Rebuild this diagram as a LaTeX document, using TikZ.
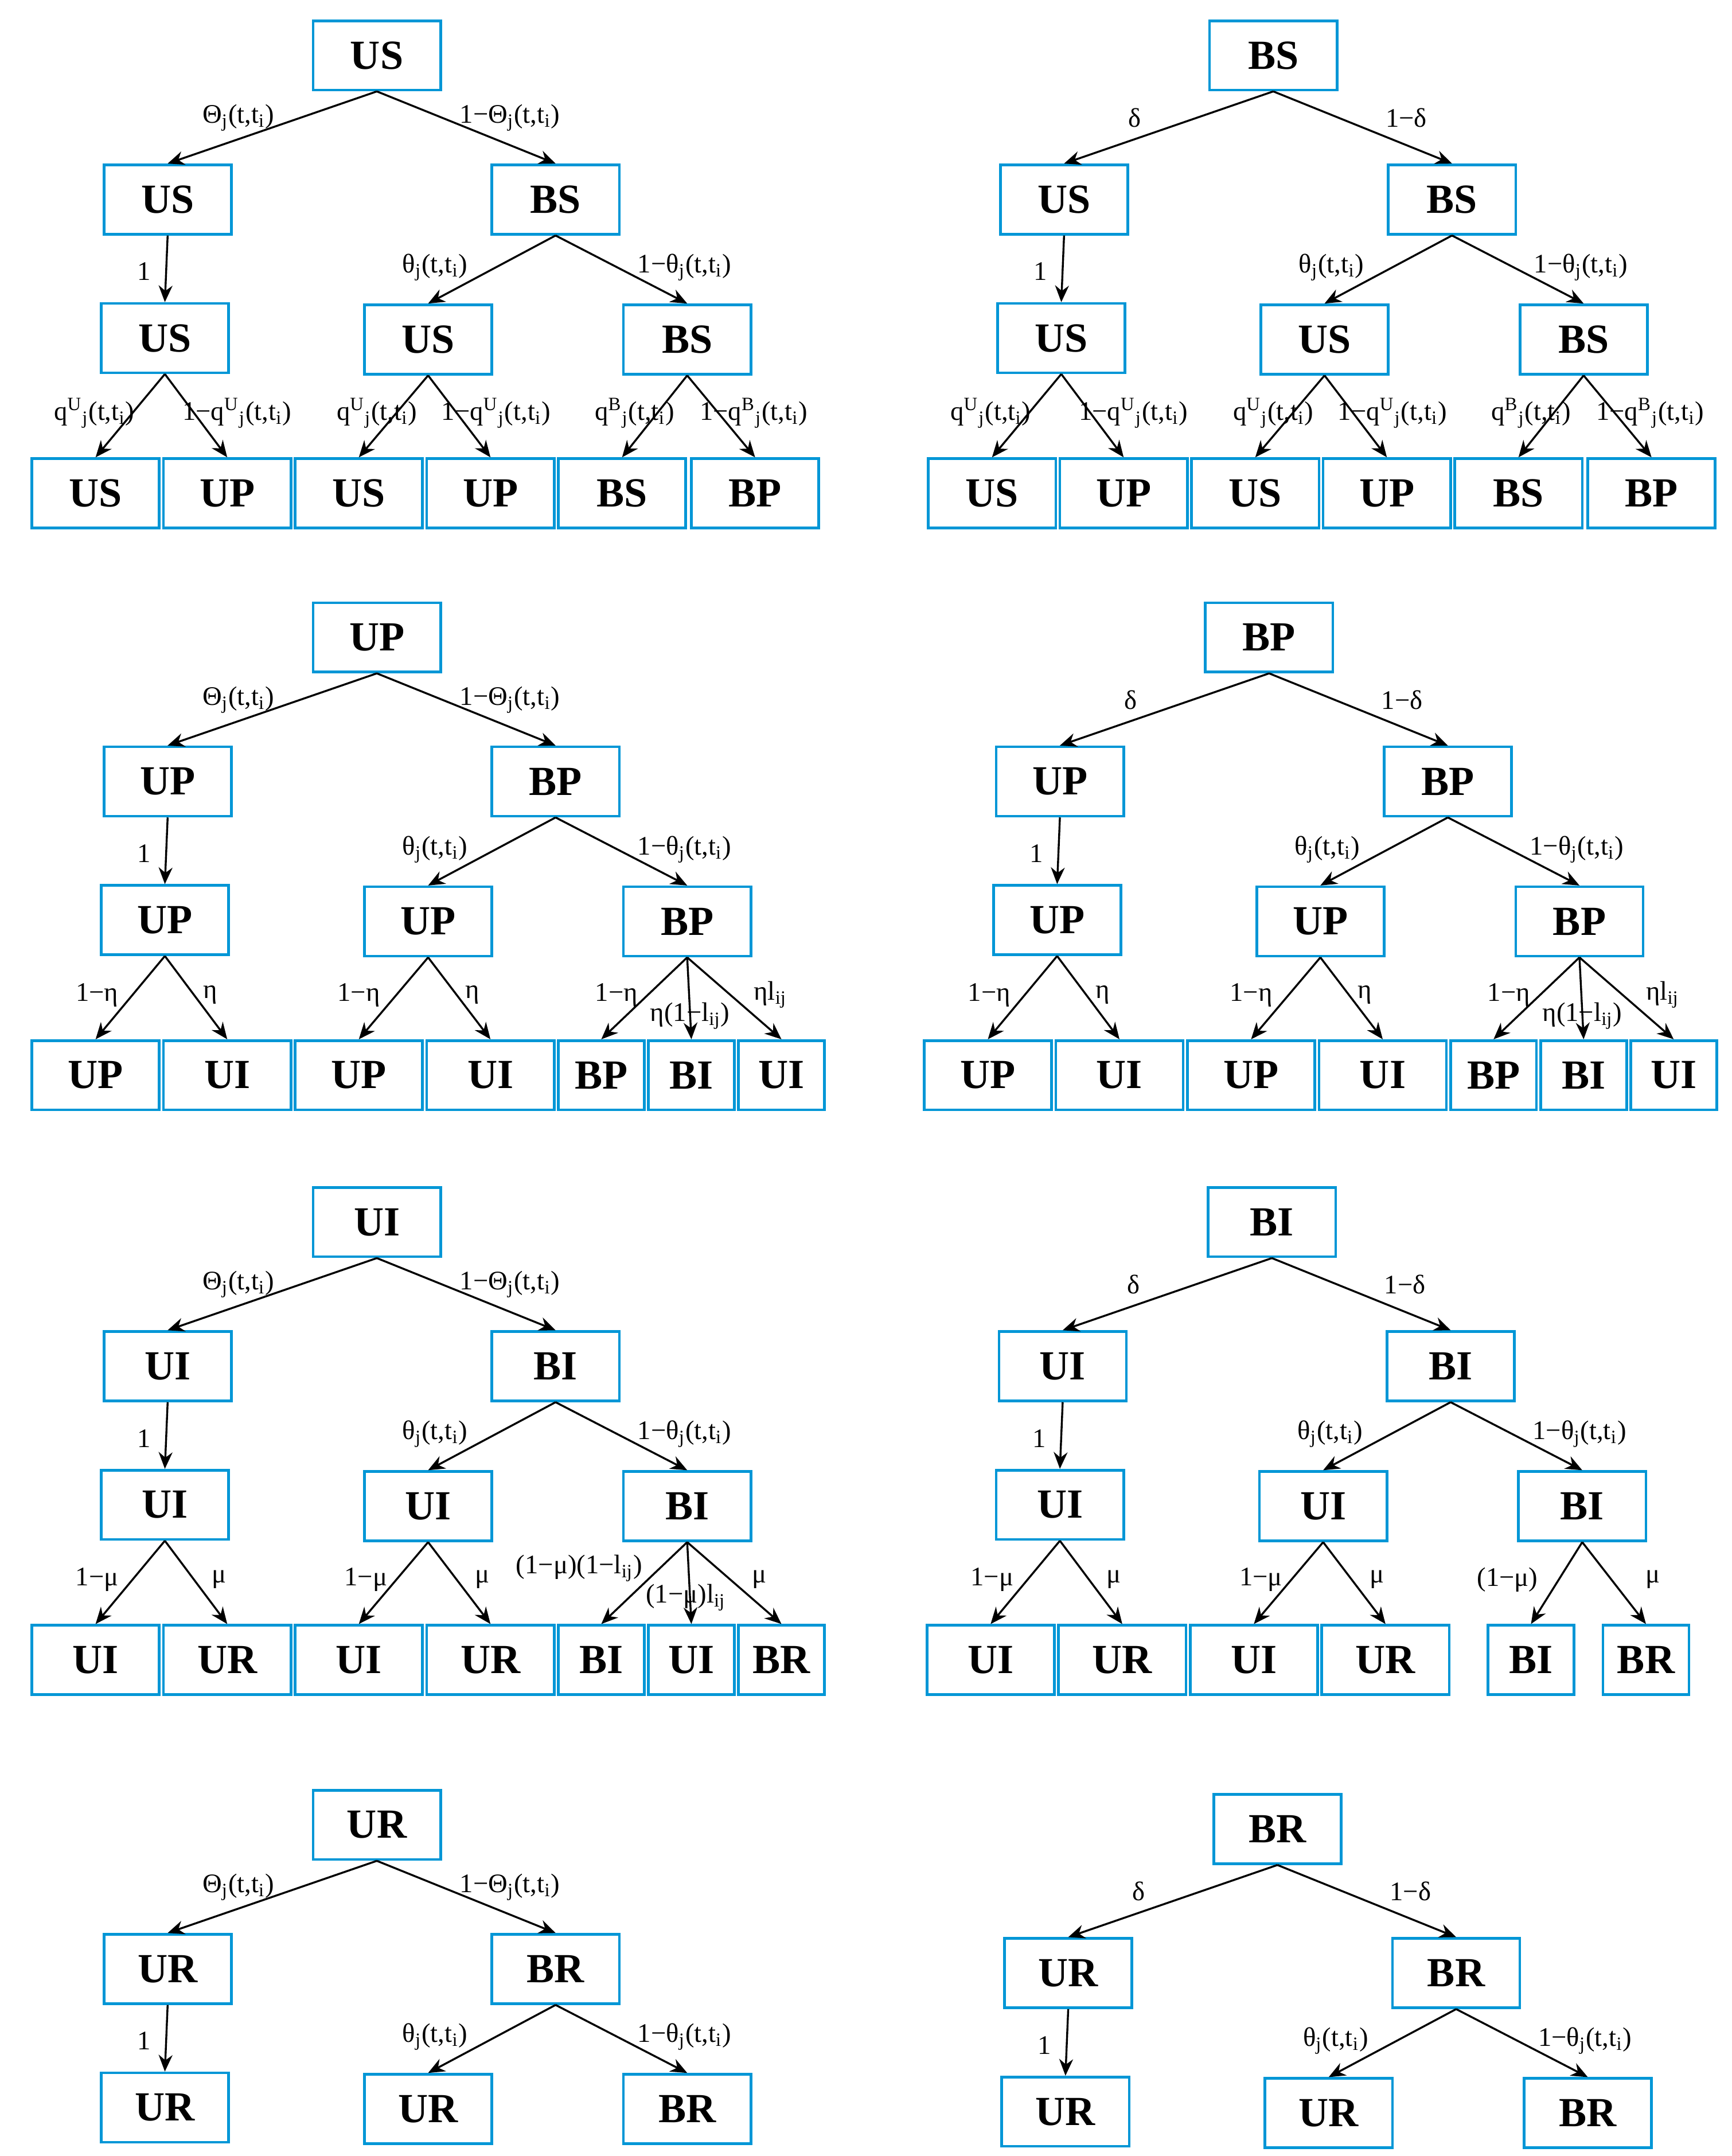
\documentclass[tikz,border=0pt]{standalone}
\usepackage{fontspec}
\setmainfont{Liberation Serif}
\usetikzlibrary{arrows.meta}
\definecolor{boxblue}{RGB}{0,150,214}
\tikzset{
    box/.style={draw=boxblue,line width=1.1pt,minimum width=1.84cm,minimum height=1cm,
        inner sep=0pt,font=\fontsize{17}{17}\selectfont\bfseries},
    nbox/.style={box,minimum width=1.24cm},
    arr/.style={-{Stealth[length=2.4mm,width=2mm]},line width=0.8pt},
    lab/.style={inner sep=0pt,font=\fontsize{11}{11}\selectfont}
}
\newcommand\tsub[1]{\textsubscript{#1}}
\newcommand\tsup[1]{\textsuperscript{#1}}
% prefix, root, left, right, left label, right label
\newcommand\uppertree[6]{%
    \node [box] (#1r) at (272,40) {#2};
    \node [box] (#1a) at (121,144) {#3};
    \node [box] (#1b) at (401,144) {#4};
    \node [box] (#1c) at (119,244) {#3};
    \node [box] (#1d) at (309,245) {#3};
    \node [box] (#1e) at (496,245) {#4};
    \draw [arr] (#1r.south) -- (#1a.north);
    \draw [arr] (#1r.south) -- (#1b.north);
    \draw [arr] (#1a.south) -- (#1c.north);
    \draw [arr] (#1b.south) -- (#1d.north);
    \draw [arr] (#1b.south) -- (#1e.north);
    \node [lab] (#1pa) at (172,85) {#5};
    \node [lab] (#1pb) at (368,85) {#6};
    \node [lab] (#1pc) at (104,196) {1};
    \node [lab] (#1pd) at (314,193) {θ\tsub{j}(t,t\tsub{i})};
    \node [lab] (#1pe) at (494,193) {1−θ\tsub{j}(t,t\tsub{i})};
}
\newcommand\leaves[2]{%
    \foreach \n/\x/\t/\p/\s in {#2} {
        \node [\s] (#1l\n) at (\x,356) {\t};
        \draw [arr] (#1\p.south) -- (#1l\n.north);
    }
}

\begin{document}
\begin{tikzpicture}[x=0.02cm,y=-0.02cm]
    \useasboundingbox (0,0) rectangle (1250,1556);
    % S row
    \begin{scope}
        \uppertree{sa}{US}{US}{BS}{Θ\tsub{j}(t,t\tsub{i})}{1−Θ\tsub{j}(t,t\tsub{i})}
        \leaves{sa}{1/69/US/c/box,2/164/UP/c/box,3/259/US/d/box,4/354/UP/d/box,5/449/BS/e/box,6/545/BP/e/box}
    \end{scope}
    \begin{scope}[shift={(647,0)}]
        \uppertree{sb}{BS}{US}{BS}{δ}{1−δ}
        \leaves{sb}{1/69/US/c/box,2/164/UP/c/box,3/259/US/d/box,4/354/UP/d/box,5/449/BS/e/box,6/545/BP/e/box}
    \end{scope}
    \foreach \s in {0,647} {
        \begin{scope}[shift={(\s,0)}]
            \node [lab] (q1\s) at (68,298) {q\tsup{U}\tsub{j}(t,t\tsub{i})};
            \node [lab] (q2\s) at (171,298) {1−q\tsup{U}\tsub{j}(t,t\tsub{i})};
            \node [lab] (q3\s) at (272,298) {q\tsup{U}\tsub{j}(t,t\tsub{i})};
            \node [lab] (q4\s) at (358,298) {1−q\tsup{U}\tsub{j}(t,t\tsub{i})};
            \node [lab] (q5\s) at (458,298) {q\tsup{B}\tsub{j}(t,t\tsub{i})};
            \node [lab] (q6\s) at (544,298) {1−q\tsup{B}\tsub{j}(t,t\tsub{i})};
        \end{scope}
    }
    % P row
    \begin{scope}[shift={(0,420)}]
        \uppertree{pa}{UP}{UP}{BP}{Θ\tsub{j}(t,t\tsub{i})}{1−Θ\tsub{j}(t,t\tsub{i})}
        \leaves{pa}{1/69/UP/c/box,2/164/UI/c/box,3/259/UP/d/box,4/354/UI/d/box,5/434/BP/e/nbox,6/499/BI/e/nbox,7/564/UI/e/nbox}
    \end{scope}
    \begin{scope}[shift={(644,420)}]
        \uppertree{pb}{BP}{UP}{BP}{δ}{1−δ}
        \leaves{pb}{1/69/UP/c/box,2/164/UI/c/box,3/259/UP/d/box,4/354/UI/d/box,5/434/BP/e/nbox,6/499/BI/e/nbox,7/564/UI/e/nbox}
    \end{scope}
    \foreach \s in {0,644} {
        \begin{scope}[shift={(\s,420)}]
            \node [lab] (e1\s) at (70,298) {1−η};
            \node [lab] (e2\s) at (152,298) {η};
            \node [lab] (e3\s) at (259,298) {1−η};
            \node [lab] (e4\s) at (341,298) {η};
            \node [lab] (e5\s) at (445,298) {1−η};
            \node [lab] (e6\s) at (498,313) {η(1−l\tsub{ij})};
            \node [lab] (e7\s) at (556,298) {ηl\tsub{ij}};
        \end{scope}
    }
    % I row
    \begin{scope}[shift={(0,842)}]
        \uppertree{ia}{UI}{UI}{BI}{Θ\tsub{j}(t,t\tsub{i})}{1−Θ\tsub{j}(t,t\tsub{i})}
        \leaves{ia}{1/69/UI/c/box,2/164/UR/c/box,3/259/UI/d/box,4/354/UR/d/box,5/434/BI/e/nbox,6/499/UI/e/nbox,7/564/BR/e/nbox}
        \node [lab] (ia1) at (418,290) {(1−μ)(1−l\tsub{ij})};
        \node [lab] (ia2) at (495,311) {(1−μ)l\tsub{ij}};
        \node [lab] (ia3) at (548,298) {μ};
    \end{scope}
    \begin{scope}[shift={(646,842)}]
        \uppertree{ib}{BI}{UI}{BI}{δ}{1−δ}
        \leaves{ib}{1/69/UI/c/box,2/164/UR/c/box,3/259/UI/d/box,4/354/UR/d/box,5/459/BI/e/nbox,6/542/BR/e/nbox}
        \node [lab] (ib1) at (442,298) {(1−μ)};
        \node [lab] (ib2) at (547,298) {μ};
    \end{scope}
    \foreach \s in {0,646} {
        \begin{scope}[shift={(\s,842)}]
            \node [lab] (m1\s) at (70,298) {1−μ};
            \node [lab] (m2\s) at (158,298) {μ};
            \node [lab] (m3\s) at (264,298) {1−μ};
            \node [lab] (m4\s) at (348,298) {μ};
        \end{scope}
    }
    % R row
    \begin{scope}[shift={(0,1277)}]
        \uppertree{ra}{UR}{UR}{BR}{Θ\tsub{j}(t,t\tsub{i})}{1−Θ\tsub{j}(t,t\tsub{i})}
    \end{scope}
    \begin{scope}[shift={(650,1280)}]
        \uppertree{rb}{BR}{UR}{BR}{δ}{1−δ}
    \end{scope}
\end{tikzpicture}
\end{document}
